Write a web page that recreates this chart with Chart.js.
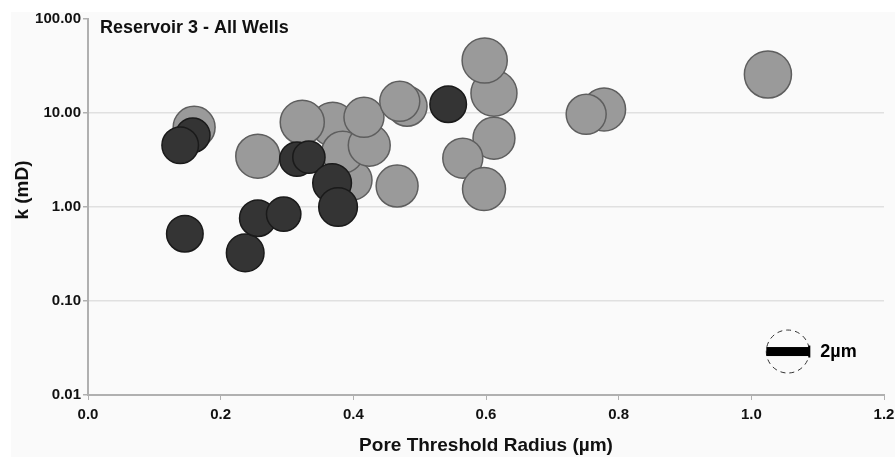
<!DOCTYPE html>
<html>
<head>
<meta charset="utf-8">
<script src="https://cdn.jsdelivr.net/npm/chart.js@4.4.0/dist/chart.umd.min.js"></script>
<style>
  html, body { margin: 0; padding: 0; background: #fff; }
</style>
</head>
<body>
<canvas id="chart" width="895" height="457"></canvas>
<script>
// light grey wells: pore threshold radius (µm), permeability (mD), pore size (µm)
const greyRadius = [0.160, 0.256, 0.369, 0.323, 0.398, 0.384, 0.424, 0.416, 0.466, 0.481, 0.470, 0.612, 0.598, 0.612, 0.565, 0.597, 0.778, 0.751, 1.025];
const greyK      = [7.05, 3.47, 7.6, 7.97, 1.93, 3.83, 4.54, 9.0, 1.67, 11.8, 13.3, 16.2, 36.2, 5.39, 3.31, 1.55, 10.9, 9.69, 25.7];
const greySize   = [1.95, 2.05, 2.05, 2.05, 1.86, 1.95, 1.95, 1.86, 1.95, 1.86, 1.86, 2.14, 2.1, 1.95, 1.86, 2.0, 2.0, 1.86, 2.19];

// dark wells
const darkRadius = [0.158, 0.139, 0.146, 0.237, 0.256, 0.295, 0.315, 0.333, 0.368, 0.377, 0.543];
const darkK      = [5.8, 4.54, 0.52, 0.325, 0.76, 0.84, 3.23, 3.39, 1.80, 1.0, 12.4];
const darkSize   = [1.6, 1.7, 1.7, 1.75, 1.7, 1.6, 1.6, 1.5, 1.8, 1.8, 1.7];

const xTicks = [0, 0.2, 0.4, 0.6, 0.8, 1.0, 1.2];
const yTicks = [0.01, 0.1, 1, 10, 100];

// scale key bubble (2 µm) location in data units
const keySize = 2;
const keyAt = { x: 1.055, y: 0.029 };

const PX_PER_UM = 10.75;
const FONT = "'Liberation Sans', Arial, sans-serif";

function toPoints(xs, ys, sizes) {
    let pts = [];
    for (let i = 0; i < xs.length; i++) {
        pts.push({ x: xs[i], y: ys[i], r: sizes[i] * PX_PER_UM });
    }
    return pts;
}

// pale panel behind everything
const panelBg = {
    id: 'panelBg',
    beforeDraw(chart) {
        const ctx = chart.ctx;
        ctx.save();
        ctx.fillStyle = '#fafafa';
        ctx.fillRect(11, 12, chart.width - 11, chart.height - 12);
        ctx.restore();
    }
};

// title inside the plot, y axis title, and the 2µm key
const extras = {
    id: 'extras',
    afterDraw(chart) {
        const ctx = chart.ctx;
        const area = chart.chartArea;
        ctx.save();
        ctx.fillStyle = '#111';
        ctx.font = 'bold 18px ' + FONT;
        ctx.textBaseline = 'alphabetic';
        ctx.fillText('Reservoir 3 - All Wells', area.left + 12, area.top + 14);

        // y axis title sits a bit above the middle of the axis
        ctx.save();
        ctx.translate(23, (area.top + area.bottom) / 2 - 17);
        ctx.rotate(-Math.PI / 2);
        ctx.font = 'bold 19px ' + FONT;
        ctx.textAlign = 'center';
        ctx.textBaseline = 'middle';
        ctx.fillText('k (mD)', 0, 0);
        ctx.restore();

        const cx = chart.scales.x.getPixelForValue(keyAt.x);
        const cy = chart.scales.y.getPixelForValue(keyAt.y);
        const r = keySize * PX_PER_UM;
        ctx.setLineDash([5, 4]);
        ctx.strokeStyle = '#333';
        ctx.lineWidth = 1;
        ctx.beginPath();
        ctx.arc(cx, cy, r, 0, Math.PI * 2);
        ctx.stroke();
        ctx.setLineDash([]);
        ctx.fillStyle = '#000';
        ctx.fillRect(cx - r, cy - 4.5, r * 2, 9);
        ctx.fillRect(cx + r - 1, cy - 6, 2, 12);
        ctx.font = 'bold 18px ' + FONT;
        ctx.textBaseline = 'middle';
        ctx.fillText('2µm', cx + r + 11, cy);
        ctx.restore();
    }
};

const tickFont = { family: FONT, size: 15, weight: 'bold' };
const titleFont = { family: FONT, size: 19, weight: 'bold' };

new Chart(document.getElementById('chart'), {
    type: 'bubble',
    data: {
        // first dataset is painted on top
        datasets: [{
            label: 'dark',
            data: toPoints(darkRadius, darkK, darkSize),
            backgroundColor: '#343434',
            borderColor: '#1a1a1a',
            borderWidth: 1.5
        }, {
            label: 'grey',
            data: toPoints(greyRadius, greyK, greySize),
            backgroundColor: '#9a9a9a',
            borderColor: '#5e5e5e',
            borderWidth: 1.5
        }]
    },
    options: {
        responsive: false,
        animation: false,
        devicePixelRatio: 1,
        events: [],
        layout: { autoPadding: false, padding: { left: 0, top: 19, right: 11, bottom: 0 } },
        plugins: {
            legend: { display: false },
            tooltip: { enabled: false }
        },
        scales: {
            x: {
                type: 'linear',
                min: 0,
                max: 1.2,
                afterBuildTicks: s => { s.ticks = xTicks.map(v => ({ value: v })); },
                ticks: { callback: v => v.toFixed(1), font: tickFont, color: '#111', padding: 6, maxRotation: 0 },
                grid: { drawOnChartArea: false, tickLength: 5, color: '#b0b0b0' },
                border: { color: '#b0b0b0', width: 2 },
                title: { display: true, text: 'Pore Threshold Radius (µm)', font: titleFont, color: '#111', padding: { top: 0, bottom: 0 } },
                afterFit: s => { s.height = 62; s.paddingLeft = 0; s.paddingRight = 0; }
            },
            y: {
                type: 'logarithmic',
                min: 0.01,
                max: 100,
                afterBuildTicks: s => { s.ticks = yTicks.map(v => ({ value: v })); },
                ticks: { callback: v => Number(v).toFixed(2), font: tickFont, color: '#111', padding: 2 },
                grid: {
                    color: c => (c.tick && c.tick.value === 100) ? 'rgba(0,0,0,0)' : '#e0e0e0',
                    tickColor: '#b0b0b0',
                    lineWidth: 1.5,
                    tickLength: 5
                },
                border: { color: '#b0b0b0', width: 2 },
                afterFit: s => { s.width = 88; s.paddingTop = 0; s.paddingBottom = 0; }
            }
        }
    },
    plugins: [panelBg, extras]
});
</script>
</body>
</html>
